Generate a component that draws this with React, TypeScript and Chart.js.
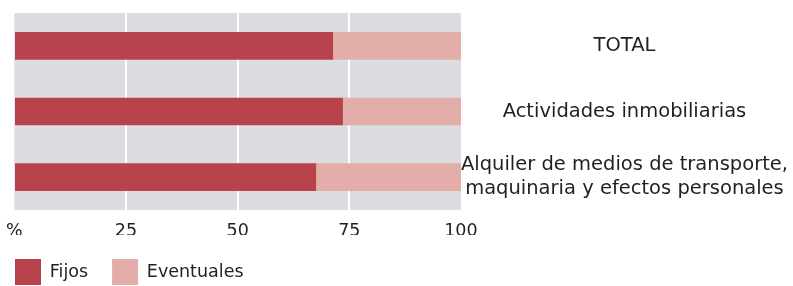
import React, { useEffect, useRef } from 'react';
import { Chart, registerables } from 'chart.js';

Chart.register(...registerables);

const categories: (string | string[])[] = [
  'TOTAL',
  'Actividades inmobiliarias',
  ['Alquiler de medios de transporte,', 'maquinaria y efectos personales'],
];
const fijos = [71.3, 73.5, 67.5];
const eventuales = [28.7, 26.5, 32.5];
const xTickValues = [0, 25, 50, 75, 100];
const xTickLabels = ['%', '25', '50', '75', '100'];
const seriesNames = ['Fijos', 'Eventuales'];

const FONT = "'DejaVu Sans', sans-serif";
const TEXT = '#231f20';

const plotBackground = {
  id: 'plotBackground',
  beforeDraw(chart: any) {
    const { ctx, chartArea } = chart;
    if (!chartArea) return;
    ctx.save();
    ctx.fillStyle = '#dcdde0';
    ctx.fillRect(chartArea.left, chartArea.top, chartArea.right - chartArea.left, chartArea.bottom - chartArea.top);
    ctx.restore();
  },
};

function rev<T>(a: T[]): T[] {
  return a.slice().reverse();
}

export default function App() {
  const ref = useRef<HTMLCanvasElement>(null);
  useEffect(() => {
    const chart = new Chart(ref.current!, {
      type: 'bar',
      data: {
        labels: rev(categories),
        datasets: [
          { label: seriesNames[0], data: rev(fijos), backgroundColor: '#b8434d', borderWidth: 0, barThickness: 27 },
          { label: seriesNames[1], data: rev(eventuales), backgroundColor: '#e3aea9', borderWidth: 0, barThickness: 27 },
        ],
      },
      options: {
        indexAxis: 'y',
        animation: false,
        responsive: true,
        maintainAspectRatio: false,
        devicePixelRatio: 1,
        layout: { padding: { left: -15, top: 13, right: 0, bottom: -9 } },
        scales: {
          x: {
            stacked: true,
            min: 0,
            max: 100,
            ticks: {
              stepSize: 25,
              callback: (v: any) => xTickLabels[xTickValues.indexOf(Number(v))],
              font: { family: FONT, size: 17.5, lineHeight: 0.457 },
              color: TEXT,
              padding: 0,
            },
            grid: {
              color: (c: any) =>
                c.tick && (c.tick.value === 0 || c.tick.value === 100) ? 'rgba(0,0,0,0)' : '#ffffff',
              lineWidth: 2,
              drawTicks: true,
              tickLength: 17,
              tickColor: 'rgba(0,0,0,0)',
            },
            border: { display: false },
          },
          y: {
            stacked: true,
            reverse: true,
            position: 'right',
            grid: { display: false, drawTicks: false },
            border: { display: false },
            ticks: {
              crossAlign: 'center',
              padding: 0,
              font: { family: FONT, size: 19.5, lineHeight: 1.25 },
              color: TEXT,
            },
          },
        },
        plugins: {
          legend: {
            position: 'bottom',
            align: 'start',
            labels: {
              boxWidth: 26,
              boxHeight: 26,
              padding: 24,
              font: { family: FONT, size: 17.5 },
              color: TEXT,
            },
          },
          tooltip: { enabled: false },
        },
      },
      plugins: [plotBackground],
    });
    return () => chart.destroy();
  }, []);

  return (
    <div style={{ position: 'absolute', left: 0, top: 0, width: 793, height: 286, overflow: 'hidden' }}>
      <div style={{ position: 'absolute', left: 6, top: 0, width: 782, height: 286 }}>
        <canvas ref={ref} />
      </div>
    </div>
  );
}
